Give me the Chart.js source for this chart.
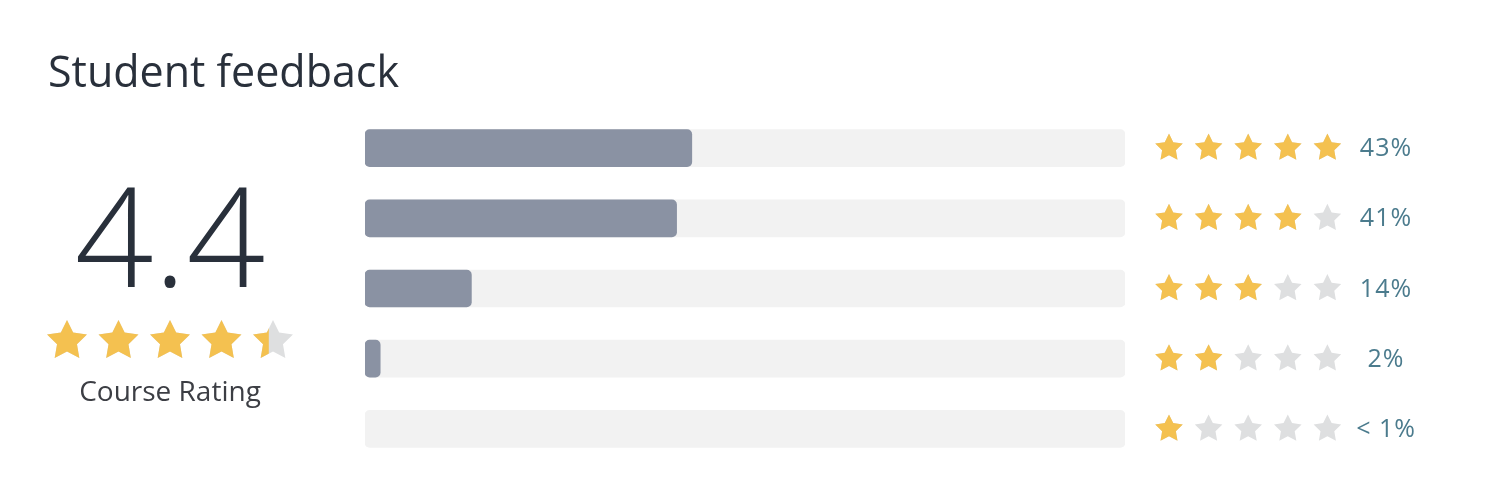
<!DOCTYPE html>
<html>
<head>
<meta charset="utf-8">
<script src="https://cdn.jsdelivr.net/npm/chart.js@4/dist/chart.umd.min.js"></script>
<style>
  html, body { margin: 0; padding: 0; background: #ffffff; }
  #wrap { position: relative; width: 1500px; height: 497px; }
  canvas { display: block; }
</style>
</head>
<body>
<div id="wrap"><canvas id="c" width="1500" height="497"></canvas></div>
<script>
// ---- data ----
const chartTitle = 'Student feedback';
const averageRating = 4.4;
const averageLabel = '4.4';
const ratingCaption = 'Course Rating';
const ratingCategories = ['5 stars', '4 stars', '3 stars', '2 stars', '1 star'];
const starCounts = [5, 4, 3, 2, 1];
const percentValues = [43, 41, 14, 2, 0];
const percentLabels = ['43%', '41%', '14%', '2%', '< 1%'];
const trackValues = [100, 100, 100, 100, 100];

const FONT = '"Open Sans", "Noto Sans", sans-serif';
const STAR_ON = '#f4c150';
const STAR_OFF = '#dedfe0';

function starPath(ctx, cx, cy, R) {
  const r = R * 0.5;
  ctx.beginPath();
  for (let i = 0; i < 10; i++) {
    const rad = (i % 2 === 0) ? R : r;
    const a = -Math.PI / 2 + i * Math.PI / 5;
    const x = cx + rad * Math.cos(a);
    const y = cy + rad * Math.sin(a);
    if (i === 0) ctx.moveTo(x, y); else ctx.lineTo(x, y);
  }
  ctx.closePath();
}

function drawStar(ctx, cx, cy, R, fill) {
  ctx.save();
  starPath(ctx, cx, cy, R);
  ctx.fillStyle = STAR_OFF;
  ctx.fill();
  if (fill > 0) {
    ctx.save();
    ctx.beginPath();
    ctx.rect(cx - R, cy - R, 2 * R * fill, 2 * R + 2);
    ctx.clip();
    starPath(ctx, cx, cy, R);
    ctx.fillStyle = STAR_ON;
    ctx.fill();
    ctx.restore();
  }
  ctx.restore();
}

const decor = {
  id: 'decor',
  afterDraw(chart) {
    const ctx = chart.ctx;
    const yScale = chart.scales.y;
    ctx.save();
    // title
    ctx.fillStyle = '#29303b';
    ctx.textBaseline = 'alphabetic';
    ctx.textAlign = 'left';
    ctx.font = '500 43px ' + FONT;
    ctx.fillText(chartTitle, 48, 87);
    // big rating
    ctx.textAlign = 'center';
    ctx.font = '350 138px ' + FONT;
    ctx.fillText(averageLabel, 170, 287);
    // rating stars
    for (let i = 0; i < 5; i++) {
      const f = Math.max(0, Math.min(1, averageRating - i));
      drawStar(ctx, 67 + i * 51.5, 341, 21, f);
    }
    // caption
    ctx.fillStyle = '#3c3e44';
    ctx.font = '400 28px ' + FONT;
    ctx.fillText(ratingCaption, 170, 401);
    // row stars + labels
    ratingCategories.forEach((cat, idx) => {
      const y = yScale.getPixelForValue(idx);
      for (let s = 0; s < 5; s++) {
        drawStar(ctx, 1169 + s * 39.6, y, 14.5, s < starCounts[idx] ? 1 : 0);
      }
      ctx.fillStyle = '#4b7b8d';
      ctx.font = '400 25px ' + FONT;
      ctx.letterSpacing = '1px';
      ctx.textAlign = 'center';
      ctx.textBaseline = 'middle';
      ctx.fillText(percentLabels[idx], 1386, y + 1);
      ctx.letterSpacing = '0px';
    });
    ctx.restore();
  }
};

new Chart(document.getElementById('c'), {
  type: 'bar',
  data: {
    labels: ratingCategories,
    datasets: [
      {
        label: 'Share of ratings',
        data: percentValues,
        backgroundColor: (c) => (c.raw > 0 ? '#8a92a3' : 'rgba(0,0,0,0)'),
        borderRadius: 5,
        borderSkipped: false,
        barThickness: 37,
        grouped: false,
        order: 0
      },
      {
        label: 'Track',
        data: trackValues,
        backgroundColor: '#f2f2f2',
        borderRadius: 5,
        borderSkipped: false,
        barThickness: 37,
        grouped: false,
        order: 1
      }
    ]
  },
  options: {
    indexAxis: 'y',
    responsive: false,
    animation: false,
    devicePixelRatio: 1,
    layout: { padding: { left: 365, right: 375, top: 113, bottom: 33 } },
    plugins: { legend: { display: false }, tooltip: { enabled: false } },
    scales: {
      x: { display: false, min: 0, max: 100 },
      y: { display: false }
    }
  },
  plugins: [decor]
});
</script>
</body>
</html>
